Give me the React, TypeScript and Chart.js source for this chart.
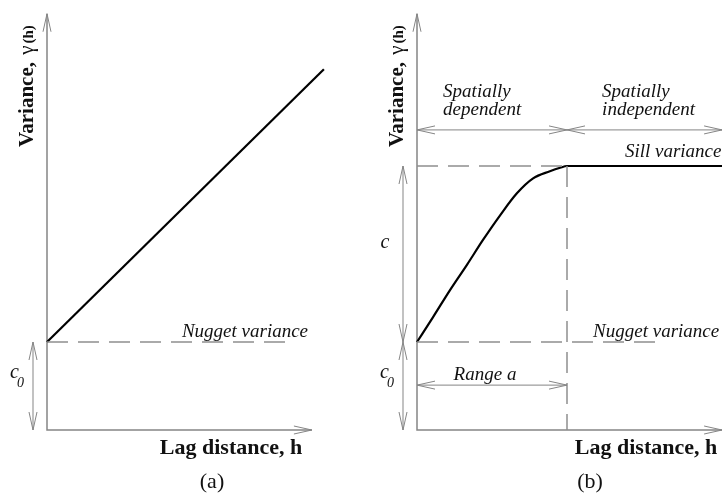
import React, { useEffect, useRef } from "react";
import { Chart, registerables } from "chart.js";

Chart.register(...registerables);

// ---- data (units: lag distance h, variance γ(h)) ----
const NUGGET = 1; // c0
const SILL = 3; // c0 + c
const RANGE_A = 5; // range a
const linearLag = [0, 9.23];
const linearVar = [1, 4.1];
const boundedLag = [0, 0.53, 1.1, 1.67, 2.2, 2.77, 3.33, 3.87, 4.43, 4.77, 5, 10.3];
const boundedVar = [1, 1.28, 1.59, 1.88, 2.16, 2.44, 2.69, 2.86, 2.94, 2.98, 3, 3];
const nuggetLineEnd = [8.2, 8.2];
const axisEndX = [8.83, 10.17];
const axisTopY = 4.73;
const zoneLevel = 3.41;
const rangeLevel = 0.51;
const panelTags = ["(a)", "(b)"];
const xTitle = "Lag distance, h";
const yTitleParts = ["Variance, ", "\u03b3", "(h)"];
const nuggetLabel = "Nugget variance";
const sillLabel = "Sill variance";
const zoneLabels = [["Spatially", "dependent"], ["Spatially", "independent"]];
const rangeLabel = "Range a";

const FONT = '"Liberation Serif", "Times New Roman", serif';
const GRAY = "#858585";
const DASH_GRAY = "#8e8e8e";
const INK = "#111111";

type Ctx = CanvasRenderingContext2D;

function arrowHead(ctx: Ctx, tx: number, ty: number, dx: number, dy: number) {
  const len = 18, half = 4;
  const px = -dy, py = dx;
  ctx.beginPath();
  ctx.moveTo(tx - dx * len + px * half, ty - dy * len + py * half);
  ctx.lineTo(tx, ty);
  ctx.lineTo(tx - dx * len - px * half, ty - dy * len - py * half);
  ctx.stroke();
}

function vArrow(ctx: Ctx, x: number, y1: number, y2: number) {
  ctx.beginPath();
  ctx.moveTo(x, y1);
  ctx.lineTo(x, y2);
  ctx.stroke();
  arrowHead(ctx, x, y1, 0, -1);
  arrowHead(ctx, x, y2, 0, 1);
}

function hArrow(ctx: Ctx, x1: number, x2: number, y: number) {
  ctx.beginPath();
  ctx.moveTo(x1, y);
  ctx.lineTo(x2, y);
  ctx.stroke();
  arrowHead(ctx, x1, y, -1, 0);
  arrowHead(ctx, x2, y, 1, 0);
}

function c0Label(ctx: Ctx, cx: number, by: number) {
  ctx.fillStyle = INK;
  ctx.textAlign = "left";
  ctx.textBaseline = "alphabetic";
  ctx.font = `italic 20px ${FONT}`;
  ctx.fillText("c", cx - 5, by);
  ctx.font = `italic 14px ${FONT}`;
  ctx.fillText("0", cx + 2, by + 9);
}

function makePlugin(panel: number) {
  return {
    id: "variogramDecor" + panel,
    beforeDatasetsDraw(chart: any) {
      const ctx: Ctx = chart.ctx;
      const xs = chart.scales.x, ys = chart.scales.y;
      const x0 = xs.getPixelForValue(0), y0 = ys.getPixelForValue(0);
      ctx.save();
      ctx.strokeStyle = GRAY;
      ctx.lineWidth = 1.5;
      ctx.setLineDash([]);
      const yTop = ys.getPixelForValue(axisTopY);
      const xEnd = xs.getPixelForValue(axisEndX[panel]);
      ctx.beginPath();
      ctx.moveTo(x0, yTop);
      ctx.lineTo(x0, y0);
      ctx.lineTo(xEnd, y0);
      ctx.stroke();
      ctx.lineWidth = 1;
      arrowHead(ctx, x0, yTop, 0, -1);
      arrowHead(ctx, xEnd, y0, 1, 0);
      ctx.restore();
    },
    afterDatasetsDraw(chart: any) {
      const ctx: Ctx = chart.ctx;
      const xs = chart.scales.x, ys = chart.scales.y;
      const x0 = xs.getPixelForValue(0), y0 = ys.getPixelForValue(0);
      const yN = ys.getPixelForValue(NUGGET);
      ctx.save();
      ctx.strokeStyle = GRAY;
      ctx.lineWidth = 1;
      ctx.setLineDash([]);

      const ax = x0 - 14;
      vArrow(ctx, ax, yN, y0);
      c0Label(ctx, ax - 18, 378);

      ctx.fillStyle = INK;
      ctx.font = `italic 19px ${FONT}`;
      ctx.textBaseline = "alphabetic";
      if (panel === 0) {
        ctx.textAlign = "center";
        ctx.fillText(nuggetLabel, xs.getPixelForValue(6.6), yN - 5);
      } else {
        ctx.textAlign = "left";
        ctx.fillText(nuggetLabel, xs.getPixelForValue(5.87), yN - 5);
      }

      if (panel === 1) {
        const yS = ys.getPixelForValue(SILL);
        const xR = xs.getPixelForValue(RANGE_A);
        vArrow(ctx, ax, yS, yN);
        ctx.fillStyle = INK;
        ctx.font = `italic 20px ${FONT}`;
        ctx.textAlign = "center";
        ctx.fillText("c", ax - 18, (yS + yN) / 2 - 6);
        const yZ = ys.getPixelForValue(zoneLevel);
        hArrow(ctx, x0, xR, yZ);
        hArrow(ctx, xR, xs.getPixelForValue(axisEndX[1]), yZ);
        ctx.font = `italic 19px ${FONT}`;
        ctx.textAlign = "left";
        ctx.fillText(zoneLabels[0][0], xs.getPixelForValue(0.87), yZ - 33);
        ctx.fillText(zoneLabels[0][1], xs.getPixelForValue(0.87), yZ - 15);
        ctx.fillText(zoneLabels[1][0], xs.getPixelForValue(6.17), yZ - 33);
        ctx.fillText(zoneLabels[1][1], xs.getPixelForValue(6.17), yZ - 15);
        ctx.fillText(sillLabel, xs.getPixelForValue(6.93), yS - 9);
        const yR = ys.getPixelForValue(rangeLevel);
        hArrow(ctx, x0, xR, yR);
        ctx.textAlign = "center";
        ctx.fillText(rangeLabel, (x0 + xR) / 2 - 7, yR - 5);
      }

      ctx.fillStyle = INK;
      ctx.textAlign = "center";
      ctx.font = `bold 22px ${FONT}`;
      ctx.fillText(xTitle, x0 + (panel === 0 ? 184 : 229), 454);
      ctx.font = `22px ${FONT}`;
      ctx.fillText(panelTags[panel], x0 + (panel === 0 ? 165 : 173), 488);

      ctx.save();
      ctx.translate(x0 - 14, 147);
      ctx.rotate(-Math.PI / 2);
      ctx.textAlign = "left";
      ctx.font = `bold 21px ${FONT}`;
      ctx.fillText(yTitleParts[0], 0, 0);
      let off = ctx.measureText(yTitleParts[0]).width + 2;
      ctx.font = `21px ${FONT}`;
      ctx.fillText(yTitleParts[1], off, 0);
      off += ctx.measureText(yTitleParts[1]).width + 2;
      ctx.font = `bold 15px ${FONT}`;
      ctx.fillText(yTitleParts[2], off, 0);
      ctx.restore();

      ctx.restore();
    },
  };
}

function pts(xs: number[], ys: number[]) {
  return xs.map((x, i) => ({ x, y: ys[i] }));
}

function buildConfig(panel: number): any {
  const dashed = (data: any[]) => ({
    data,
    borderColor: DASH_GRAY,
    borderWidth: 1.5,
    borderDash: [21, 10],
    pointRadius: 0,
    fill: false,
    clip: false,
    tension: 0,
  });
  const datasets: any[] = [dashed(pts([0, nuggetLineEnd[panel]], [NUGGET, NUGGET]))];
  if (panel === 1) {
    datasets.push(dashed(pts([0, RANGE_A], [SILL, SILL])));
    datasets.push(dashed(pts([RANGE_A, RANGE_A], [SILL, 0])));
  }
  datasets.push({
    data: panel === 0 ? pts(linearLag, linearVar) : pts(boundedLag, boundedVar),
    borderColor: "#000000",
    borderWidth: 2.2,
    pointRadius: 0,
    fill: false,
    clip: false,
    cubicInterpolationMode: "monotone",
  });
  return {
    type: "line",
    data: { datasets },
    options: {
      responsive: false,
      animation: false,
      events: [],
      layout: {
        padding:
          panel === 0
            ? { left: 47, right: 14, top: 12, bottom: 64 }
            : { left: 56, right: 5, top: 12, bottom: 64 },
      },
      plugins: { legend: { display: false }, tooltip: { enabled: false } },
      scales: {
        x: { type: "linear", min: 0, max: 10, display: false },
        y: { type: "linear", min: 0, max: 4.75, display: false },
      },
    },
    plugins: [makePlugin(panel)],
  };
}

export default function App() {
  const refA = useRef<HTMLCanvasElement>(null);
  const refB = useRef<HTMLCanvasElement>(null);
  useEffect(() => {
    const a = new Chart(refA.current!, buildConfig(0));
    const b = new Chart(refB.current!, buildConfig(1));
    return () => {
      a.destroy();
      b.destroy();
    };
  }, []);
  const cs: React.CSSProperties = { position: "absolute", top: 0, width: 361, height: 494 };
  return (
    <div style={{ position: "fixed", left: 0, top: 0, width: 722, height: 494, background: "#ffffff", overflow: "hidden" }}>
      <canvas ref={refA} width={361} height={494} style={{ ...cs, left: 0 }} />
      <canvas ref={refB} width={361} height={494} style={{ ...cs, left: 361 }} />
    </div>
  );
}
